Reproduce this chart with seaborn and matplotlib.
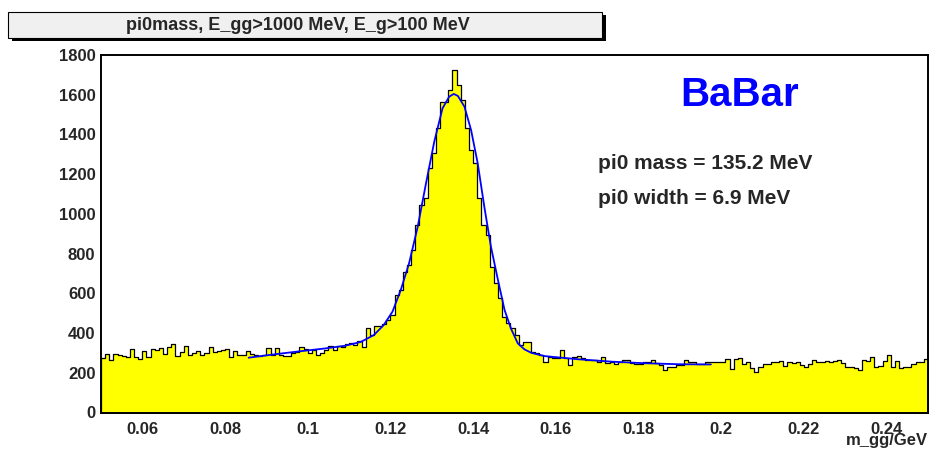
import numpy as np
import pandas as pd
import seaborn as sns
import matplotlib.pyplot as plt
from matplotlib.patches import Rectangle
from matplotlib.ticker import MultipleLocator, FormatStrFormatter

# entries per 1 MeV bin, m_gg from 0.050 to 0.250 GeV
left_sideband = [276, 296, 263, 296, 291, 284, 279, 321, 279, 271,
                 312, 279, 321, 317, 326, 296, 332, 345, 284, 304,
                 334, 291, 301, 312, 288, 301, 329, 304, 312, 316,
                 321, 279, 312, 291, 288, 312, 296, 290, 286, 290,
                 326, 290, 323, 290, 286, 286, 298, 306]
peak_region = [331, 318, 298, 315, 290, 298, 315, 335, 315, 336,
               328, 345, 348, 340, 360, 331, 424, 390, 436, 436,
               444, 466, 491, 592, 617, 709, 743, 818, 944, 1045,
               1078, 1230, 1305, 1431, 1565, 1565, 1624, 1724, 1649, 1573,
               1431, 1322, 1255, 1078, 944, 894, 734, 650, 575, 482,
               449, 424, 390, 340, 356]
right_sideband = [357, 306, 298, 290, 253, 278, 273, 273, 315, 273,
                  239, 278, 285, 273, 265, 265, 262, 253, 278, 248,
                  253, 243, 253, 262, 265, 248, 243, 243, 256, 253,
                  266, 248, 239, 214, 227, 227, 239, 239, 265, 253,
                  256, 243, 243, 253, 256, 256, 256,
                  256, 267, 219, 267, 273, 245, 253, 223, 206, 231,
                  245, 245, 253, 253, 259, 236, 256, 248, 256, 239,
                  228, 245, 265, 256, 253, 259, 256, 261, 265, 251,
                  231, 231, 226, 214, 265, 261, 278, 231, 234, 261,
                  287, 231, 259, 222, 231, 231, 245, 253, 253, 267]

# fitted curve
fit_x = [0.0857, 0.092, 0.098, 0.104, 0.109, 0.1128, 0.116, 0.1184, 0.1205,
         0.1225, 0.1245, 0.1266, 0.1286, 0.1306, 0.1326, 0.1342, 0.1353,
         0.1363, 0.1379, 0.1395, 0.1411, 0.1427, 0.1443, 0.146, 0.1476,
         0.1492, 0.1508, 0.1524, 0.1541, 0.1573, 0.1654, 0.1735, 0.1816,
         0.1897, 0.1975]
fit_y = [276, 293, 308, 322, 336, 355, 390, 441, 508,
         617, 751, 936, 1154, 1364, 1532, 1590, 1604,
         1594, 1540, 1422, 1255, 1036, 835, 667, 516,
         420, 348, 318, 300, 284, 268, 256, 248,
         243, 242]

counts = left_sideband + peak_region + right_sideband
edges = np.linspace(0.05, 0.25, len(counts) + 1)
df = pd.DataFrame({"m_gg": (edges[:-1] + edges[1:]) / 2, "entries": counts})

sns.set_style("white")
plt.rcParams['font.family'] = ['Liberation Sans', 'DejaVu Sans']
plt.rcParams['font.weight'] = 'bold'

fig = plt.figure(figsize=(9.34, 4.51), dpi=100)
ax = fig.add_axes([101 / 934, 1 - 412.5 / 451, 827 / 934, 357.5 / 451])

sns.histplot(data=df, x="m_gg", weights="entries", bins=len(counts),
             binrange=(0.05, 0.25), element="step",
             fill=True, color="#ffff00", edgecolor="black", linewidth=0.9,
             alpha=1, ax=ax)
sns.lineplot(x=fit_x, y=fit_y, color="#0000ff", linewidth=1.3, ax=ax)

ax.set_xlim(0.05, 0.25)
ax.set_ylim(0, 1800)
ax.xaxis.set_major_locator(MultipleLocator(0.02))
ax.xaxis.set_minor_locator(MultipleLocator(0.005))
ax.xaxis.set_major_formatter(FormatStrFormatter('%g'))
ax.yaxis.set_major_locator(MultipleLocator(200))
ax.yaxis.set_minor_locator(MultipleLocator(50))

ax.tick_params(which='both', direction='in', top=False, right=False,
               width=0.8, color='black', labelsize=12)
ax.tick_params(axis='x', which='major', length=7.7, pad=6.5)
ax.tick_params(axis='x', which='minor', length=3.8)
ax.tick_params(axis='y', which='major', length=17.3, pad=4)
ax.tick_params(axis='y', which='minor', length=8.6)
for s in ax.spines.values():
    s.set_color('black')
    s.set_linewidth(1.4)

ax.set_ylabel('')
ax.set_xlabel('m_gg/GeV', loc='right', fontsize=12, fontweight='bold')
ax.xaxis.set_label_coords(1.0, -0.058)

# ROOT-like title box with shadow
fig.add_artist(Rectangle((12 / 934, 1 - 41 / 451), 594 / 934, 26 / 451,
                         transform=fig.transFigure, facecolor='black',
                         edgecolor='black', lw=0))
fig.add_artist(Rectangle((8 / 934, 1 - 38 / 451), 594 / 934, 26 / 451,
                         transform=fig.transFigure, facecolor='#f0f0f0',
                         edgecolor='black', lw=0.8))
fig.text(298 / 934, 1 - 25 / 451, 'pi0mass, E_gg>1000 MeV, E_g>100 MeV',
         ha='center', va='center', fontsize=13, fontweight='bold')

fig.text(740 / 934, 1 - 106 / 451, 'BaBar', ha='center', va='baseline',
         fontsize=29, fontweight='bold', color='#0000ff')
fig.text(598 / 934, 1 - 169 / 451, 'pi0 mass = 135.2 MeV', ha='left',
         va='baseline', fontsize=15, fontweight='bold')
fig.text(598 / 934, 1 - 204 / 451, 'pi0 width = 6.9 MeV', ha='left',
         va='baseline', fontsize=15, fontweight='bold')

fig.savefig('out.png', dpi=100)
